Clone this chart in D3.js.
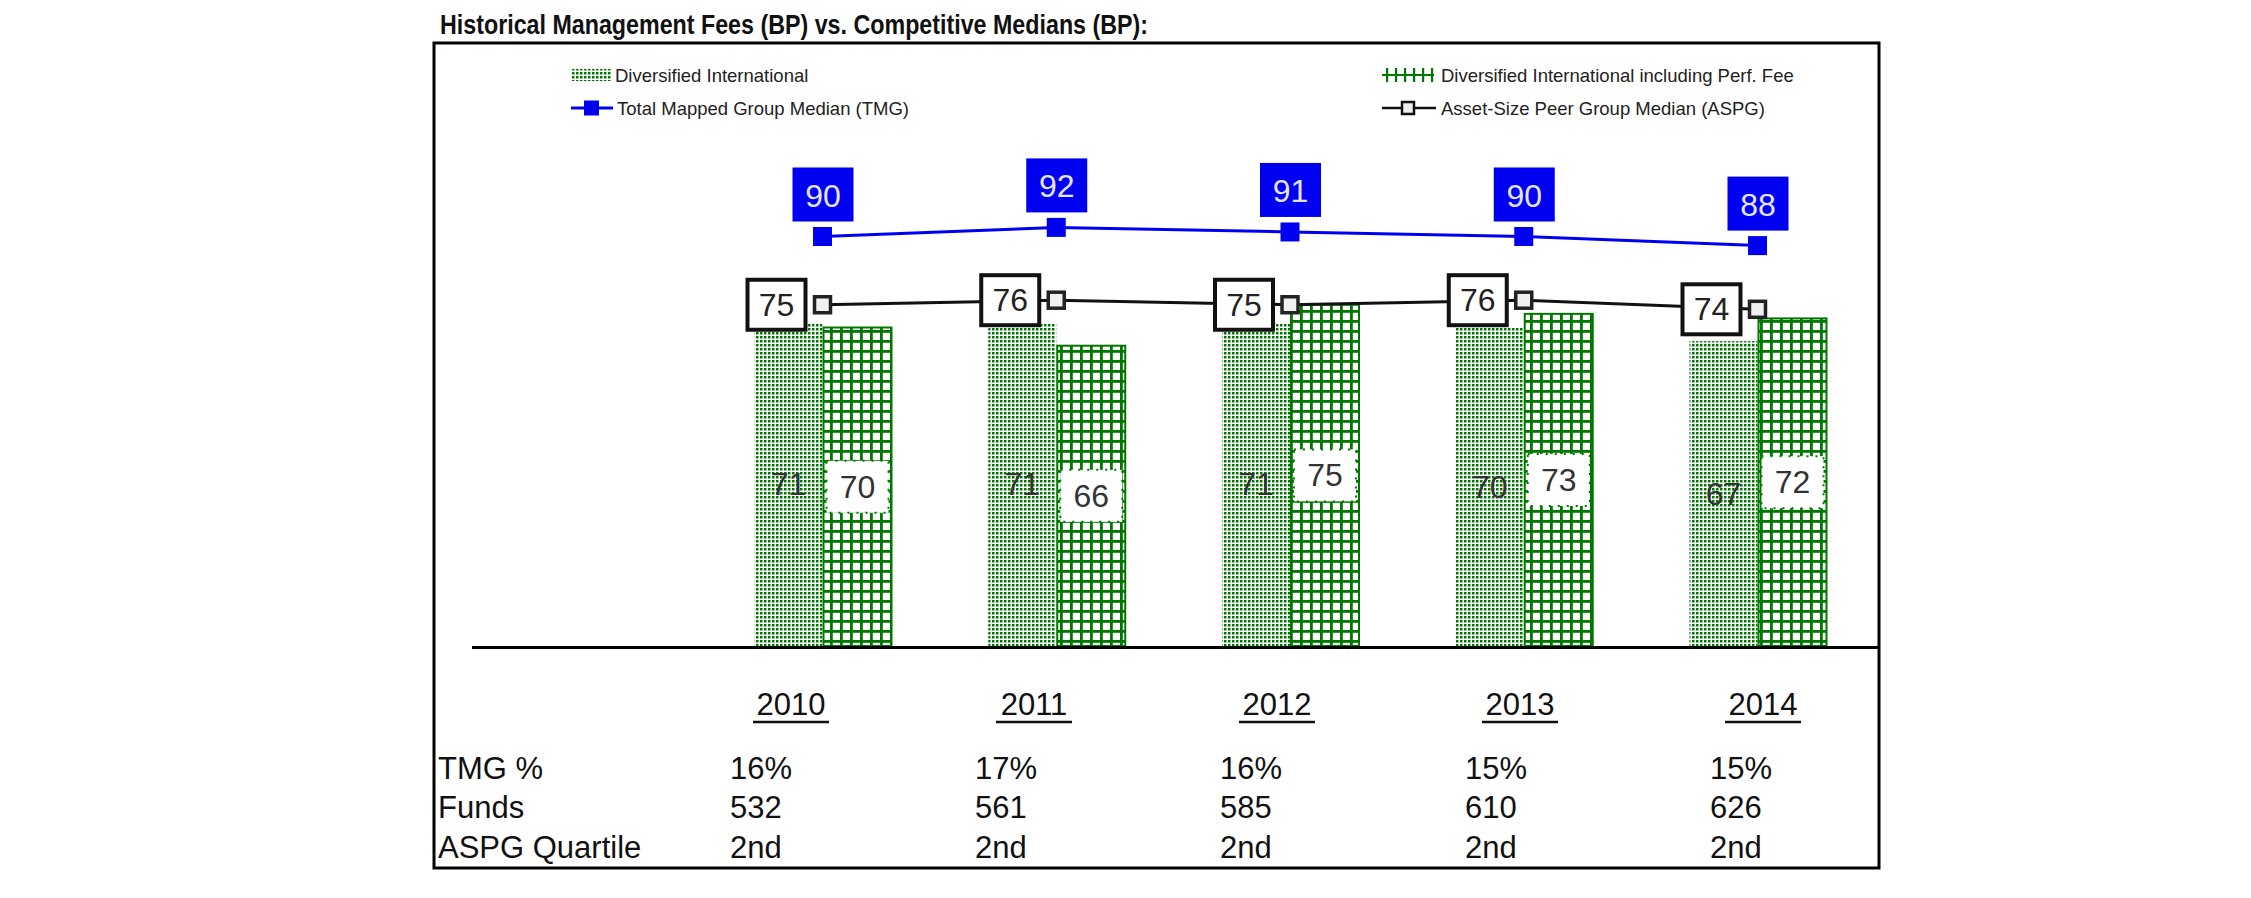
<!DOCTYPE html>
<html>
<head>
<meta charset="utf-8">
<script src="https://cdn.jsdelivr.net/npm/d3@7"></script>
<style>
    body { margin: 0; background: #fff; }
    text { font-family: "Liberation Sans", Arial, sans-serif; }
</style>
</head>
<body>
<div id="chart"></div>
<script>
// chart values
const years = ["2010", "2011", "2012", "2013", "2014"];
const diversifiedIntl = [71, 71, 71, 70, 67];
const diversifiedPerf = [70, 66, 75, 73, 72];
const tmgMedian = [90, 92, 91, 90, 88];
const aspgMedian = [75, 76, 75, 76, 74];

// table under the chart
const rowLabels = ["TMG %", "Funds", "ASPG Quartile"];
const tmgPct = ["16%", "17%", "16%", "15%", "15%"];
const funds = ["532", "561", "585", "610", "626"];
const aspgQuartile = ["2nd", "2nd", "2nd", "2nd", "2nd"];

const legendItems = ["Diversified International", "Total Mapped Group Median (TMG)",
    "Diversified International including Perf. Fee", "Asset-Size Peer Group Median (ASPG)"];

const width = 2251, height = 898;
const green = "#007800", blue = "#0000f0";

const svg = d3.select("#chart").append("svg")
    .attr("width", width)
    .attr("height", height);

// patterns for the two bar series
const defs = svg.append("defs");
const dots = defs.append("pattern")
    .attr("id", "dots")
    .attr("patternUnits", "userSpaceOnUse")
    .attr("width", 4).attr("height", 4);
dots.append("rect").attr("width", 4).attr("height", 4).attr("fill", "#fff");
dots.append("rect").attr("width", 2.5).attr("height", 2.5).attr("fill", green);

const grid = defs.append("pattern")
    .attr("id", "grid")
    .attr("patternUnits", "userSpaceOnUse")
    .attr("width", 10).attr("height", 10);
grid.append("rect").attr("width", 10).attr("height", 10).attr("fill", "#fff");
grid.append("rect").attr("width", 2.8).attr("height", 10).attr("fill", green);
grid.append("rect").attr("width", 10).attr("height", 2.8).attr("fill", green);

const vlines = defs.append("pattern")
    .attr("id", "vlines")
    .attr("patternUnits", "userSpaceOnUse")
    .attr("width", 9).attr("height", 10);
vlines.append("rect").attr("width", 2.2).attr("height", 10).attr("fill", green);

// frame
svg.append("rect")
    .attr("x", 434).attr("y", 43)
    .attr("width", 1445).attr("height", 825)
    .attr("fill", "none")
    .attr("stroke", "#000")
    .attr("stroke-width", 3);

// title
svg.append("text")
    .attr("x", 440).attr("y", 34)
    .attr("font-size", 28)
    .attr("font-weight", "bold")
    .attr("fill", "#111")
    .attr("textLength", 708)
    .attr("lengthAdjust", "spacingAndGlyphs")
    .text("Historical Management Fees (BP) vs. Competitive Medians (BP):");

// scales
const x = d3.scalePoint().domain(years).range([822.5, 1757.5]);
const y = d3.scaleLinear().domain([0, 100]).range([646, 191]);
const barW = 68;

// legend
const legend = svg.append("g").attr("class", "legend");
const lg = [
    { x: 571, y: 75, tx: 615 },
    { x: 571, y: 108, tx: 617 },
    { x: 1382, y: 75, tx: 1441 },
    { x: 1382, y: 108, tx: 1441 }
];
legend.append("rect").attr("x", lg[0].x).attr("y", lg[0].y - 6)
    .attr("width", 40).attr("height", 12).attr("fill", "url(#dots)");
legend.append("line").attr("x1", lg[1].x).attr("x2", lg[1].x + 42)
    .attr("y1", lg[1].y).attr("y2", lg[1].y)
    .attr("stroke", blue).attr("stroke-width", 3);
legend.append("rect").attr("x", lg[1].x + 13).attr("y", lg[1].y - 7.5)
    .attr("width", 15).attr("height", 15).attr("fill", blue);
legend.append("rect").attr("x", lg[2].x).attr("y", lg[2].y - 7)
    .attr("width", 52).attr("height", 14).attr("fill", "url(#vlines)");
legend.append("line").attr("x1", lg[2].x).attr("x2", lg[2].x + 52)
    .attr("y1", lg[2].y).attr("y2", lg[2].y)
    .attr("stroke", green).attr("stroke-width", 2);
legend.append("line").attr("x1", lg[3].x).attr("x2", lg[3].x + 54)
    .attr("y1", lg[3].y).attr("y2", lg[3].y)
    .attr("stroke", "#111").attr("stroke-width", 2.5);
legend.append("rect").attr("x", lg[3].x + 20).attr("y", lg[3].y - 6)
    .attr("width", 12).attr("height", 12)
    .attr("fill", "#eee").attr("stroke", "#111").attr("stroke-width", 2.5);
legend.selectAll("text.lbl")
    .data(legendItems)
    .enter().append("text")
    .attr("class", "lbl")
    .attr("x", (d, i) => lg[i].tx)
    .attr("y", (d, i) => lg[i].y + 6.5)
    .attr("font-size", 18.5)
    .attr("fill", "#222")
    .text(d => d);

// bars
const bars = svg.append("g").attr("class", "bars");
bars.selectAll("rect.intl")
    .data(diversifiedIntl)
    .enter().append("rect")
    .attr("class", "intl")
    .attr("x", (d, i) => x(years[i]) - barW)
    .attr("y", d => y(d))
    .attr("width", barW)
    .attr("height", d => y(0) - y(d))
    .attr("fill", "url(#dots)");

bars.selectAll("rect.perf")
    .data(diversifiedPerf)
    .enter().append("rect")
    .attr("class", "perf")
    .attr("x", (d, i) => x(years[i]) + 1)
    .attr("y", d => y(d))
    .attr("width", barW)
    .attr("height", d => y(0) - y(d))
    .attr("fill", "url(#grid)")
    .attr("stroke", green)
    .attr("stroke-width", 2);

// bar value labels
bars.selectAll("text.intl")
    .data(diversifiedIntl)
    .enter().append("text")
    .attr("class", "intl")
    .attr("x", (d, i) => x(years[i]) - barW / 2)
    .attr("y", d => (y(d) + y(0)) / 2 + 11)
    .attr("text-anchor", "middle")
    .attr("font-size", 32)
    .attr("fill", "#333")
    .text(d => d);

bars.selectAll("rect.perfbox")
    .data(diversifiedPerf)
    .enter().append("rect")
    .attr("class", "perfbox")
    .attr("x", (d, i) => x(years[i]) + 4)
    .attr("y", d => (y(d) + y(0)) / 2 - 26)
    .attr("width", barW - 6)
    .attr("height", 52)
    .attr("fill", "#fff")
    .attr("stroke", green)
    .attr("stroke-width", 2)
    .attr("stroke-dasharray", "2,7");

bars.selectAll("text.perf")
    .data(diversifiedPerf)
    .enter().append("text")
    .attr("class", "perf")
    .attr("x", (d, i) => x(years[i]) + 1 + barW / 2)
    .attr("y", d => (y(d) + y(0)) / 2 + 11)
    .attr("text-anchor", "middle")
    .attr("font-size", 32)
    .attr("fill", "#333")
    .text(d => d);

// x axis baseline
svg.append("line")
    .attr("x1", 472).attr("x2", 1878)
    .attr("y1", y(0) + 1.5).attr("y2", y(0) + 1.5)
    .attr("stroke", "#000")
    .attr("stroke-width", 3);

// TMG line
const lineGen = d3.line()
    .x((d, i) => x(years[i]))
    .y(d => y(d));

svg.append("path")
    .datum(tmgMedian)
    .attr("d", lineGen)
    .attr("fill", "none")
    .attr("stroke", blue)
    .attr("stroke-width", 3);

svg.selectAll("rect.tmg")
    .data(tmgMedian)
    .enter().append("rect")
    .attr("class", "tmg")
    .attr("x", (d, i) => x(years[i]) - 9.5)
    .attr("y", d => y(d) - 9.5)
    .attr("width", 19).attr("height", 19)
    .attr("fill", blue);

svg.selectAll("rect.tmgbox")
    .data(tmgMedian)
    .enter().append("rect")
    .attr("class", "tmgbox")
    .attr("x", (d, i) => x(years[i]) - 30)
    .attr("y", d => y(d) - 69)
    .attr("width", 61).attr("height", 54)
    .attr("fill", blue);

svg.selectAll("text.tmg")
    .data(tmgMedian)
    .enter().append("text")
    .attr("class", "tmg")
    .attr("x", (d, i) => x(years[i]) + 0.5)
    .attr("y", d => y(d) - 30)
    .attr("text-anchor", "middle")
    .attr("font-size", 32)
    .attr("fill", "#e4e4ff")
    .text(d => d);

// ASPG line
svg.append("path")
    .datum(aspgMedian)
    .attr("d", lineGen)
    .attr("fill", "none")
    .attr("stroke", "#111")
    .attr("stroke-width", 3);

svg.selectAll("rect.aspg")
    .data(aspgMedian)
    .enter().append("rect")
    .attr("class", "aspg")
    .attr("x", (d, i) => x(years[i]) - 8)
    .attr("y", d => y(d) - 8)
    .attr("width", 16).attr("height", 16)
    .attr("fill", "#f0f0f0")
    .attr("stroke", "#222")
    .attr("stroke-width", 3.5);

svg.selectAll("rect.aspgbox")
    .data(aspgMedian)
    .enter().append("rect")
    .attr("class", "aspgbox")
    .attr("x", (d, i) => x(years[i]) - 75)
    .attr("y", d => y(d) - 25)
    .attr("width", 58).attr("height", 50)
    .attr("fill", "#fff")
    .attr("stroke", "#111")
    .attr("stroke-width", 4);

svg.selectAll("text.aspg")
    .data(aspgMedian)
    .enter().append("text")
    .attr("class", "aspg")
    .attr("x", (d, i) => x(years[i]) - 46)
    .attr("y", d => y(d) + 11)
    .attr("text-anchor", "middle")
    .attr("font-size", 32)
    .attr("fill", "#222")
    .text(d => d);

// table under the chart
const tx = d3.scalePoint().domain(years).range([730, 1710]);
const hx = d3.scalePoint().domain(years).range([791, 1763]);
const table = svg.append("g").attr("class", "table");

table.selectAll("text.year")
    .data(years)
    .enter().append("text")
    .attr("class", "year")
    .attr("x", d => hx(d))
    .attr("y", 715)
    .attr("text-anchor", "middle")
    .attr("font-size", 31)
    .attr("fill", "#111")
    .text(d => d);

table.selectAll("line.year")
    .data(years)
    .enter().append("line")
    .attr("class", "year")
    .attr("x1", d => hx(d) - 38)
    .attr("x2", d => hx(d) + 38)
    .attr("y1", 722).attr("y2", 722)
    .attr("stroke", "#111")
    .attr("stroke-width", 2.5);

const rowY = [779, 818, 858];
table.selectAll("text.row")
    .data(rowLabels)
    .enter().append("text")
    .attr("class", "row")
    .attr("x", 438)
    .attr("y", (d, i) => rowY[i])
    .attr("font-size", 31)
    .attr("fill", "#111")
    .text(d => d);

[tmgPct, funds, aspgQuartile].forEach(function(row, r) {
    table.selectAll("text.r" + r)
        .data(row)
        .enter().append("text")
        .attr("class", "r" + r)
        .attr("x", (d, i) => tx(years[i]))
        .attr("y", rowY[r])
        .attr("font-size", 31)
        .attr("fill", "#111")
        .text(d => d);
});
</script>
</body>
</html>
